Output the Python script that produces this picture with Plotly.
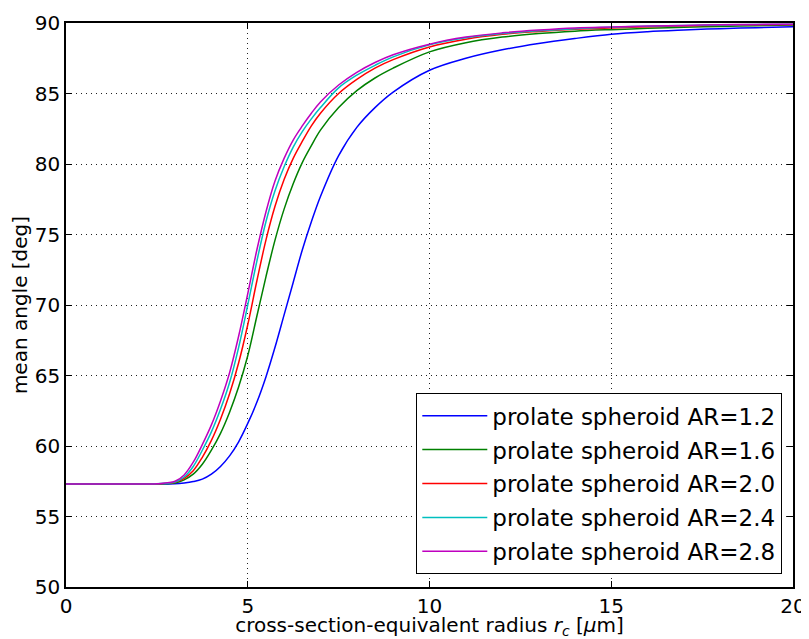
import plotly.graph_objects as go

x_vals = [0, 1, 2, 2.5, 3, 3.25, 3.5, 3.75, 4, 4.25, 4.5, 4.75, 5, 5.25, 5.5, 5.75, 6, 6.25, 6.5, 6.75, 7,
          7.5, 8, 8.5, 9, 10, 11, 12, 13, 14, 15, 16, 17, 18, 19, 20]

ar_labels = ["prolate spheroid AR=1.2", "prolate spheroid AR=1.6", "prolate spheroid AR=2.0",
             "prolate spheroid AR=2.4", "prolate spheroid AR=2.8"]

angle_ar12 = [57.3, 57.3, 57.3, 57.31, 57.32, 57.38, 57.48, 57.65, 58.0, 58.55, 59.3, 60.3, 61.6, 63.1, 64.9, 67.0,
              69.3, 71.6, 73.9, 75.9, 77.7, 80.6, 82.6, 84.0, 85.1,
              86.65, 87.5, 88.1, 88.55, 88.9, 89.2, 89.38, 89.5, 89.6, 89.67, 89.73]
angle_ar16 = [57.3, 57.3, 57.3, 57.31, 57.38, 57.6, 58.0, 58.7, 59.7, 60.9, 62.4, 64.2, 66.4, 69.2, 72.0, 74.6,
              76.8, 78.6, 80.1, 81.3, 82.4, 84.0, 85.2, 86.1, 86.8,
              87.95, 88.6, 89.0, 89.25, 89.42, 89.53, 89.62, 89.7, 89.76, 89.81, 89.85]
angle_ar20 = [57.3, 57.3, 57.3, 57.32, 57.42, 57.7, 58.25, 59.2, 60.4, 61.9, 63.7, 65.9, 68.6, 71.7, 74.6, 77.0,
              78.9, 80.4, 81.6, 82.7, 83.6, 85.0, 86.0, 86.8, 87.4,
              88.3, 88.85, 89.2, 89.4, 89.55, 89.65, 89.73, 89.79, 89.84, 89.87, 89.9]
angle_ar24 = [57.3, 57.3, 57.3, 57.32, 57.45, 57.8, 58.55, 59.7, 61.0, 62.6, 64.5, 67.0, 70.0, 73.1, 75.9, 78.1,
              79.8, 81.2, 82.3, 83.2, 84.0, 85.4, 86.3, 87.0, 87.6,
              88.45, 88.95, 89.25, 89.45, 89.6, 89.7, 89.77, 89.82, 89.86, 89.89, 89.91]
angle_ar28 = [57.3, 57.3, 57.3, 57.33, 57.5, 57.95, 58.85, 60.1, 61.5, 63.2, 65.2, 67.8, 70.8, 73.9, 76.6, 78.8,
              80.4, 81.7, 82.7, 83.6, 84.4, 85.6, 86.5, 87.2, 87.75,
              88.5, 89.0, 89.3, 89.5, 89.65, 89.72, 89.78, 89.83, 89.87, 89.9, 89.92]

series = [angle_ar12, angle_ar16, angle_ar20, angle_ar24, angle_ar28]
colors = ["#0000ff", "#008000", "#ff0000", "#00bfbf", "#bf00bf"]

x_ticks = [0, 5, 10, 15, 20]
y_ticks = [50, 55, 60, 65, 70, 75, 80, 85, 90]

fig = go.Figure()
for i, (name, ys, c) in enumerate(zip(ar_labels, series, colors)):
    fig.add_trace(go.Scatter(x=x_vals, y=ys, mode="lines", name=name, legendgroup=f"g{i}",
                             line=dict(color=c, width=1.5, shape="spline", smoothing=1.0)))

axis_common = dict(showline=True, linecolor="black", linewidth=1.5, mirror="ticks",
                   ticks="inside", ticklen=6, tickwidth=1, tickcolor="black",
                   showgrid=True, gridcolor="#222222", griddash="1px,4px", gridwidth=1,
                   zeroline=False, automargin=False, tickfont=dict(size=20, color="black"))

fig.update_xaxes(range=[0, 20], tickvals=x_ticks, ticktext=[str(t) for t in x_ticks],
                 title=dict(text="cross-section-equivalent radius <i>r</i><sub><i>c</i></sub> [<i>μ</i>m]",
                            font=dict(size=20, color="black"), standoff=4),
                 **axis_common)
fig.update_yaxes(range=[50, 90], tickvals=y_ticks, ticktext=[str(t) for t in y_ticks],
                 title=dict(text="mean angle [deg]", font=dict(size=20, color="black"), standoff=6),
                 **axis_common)

# the page body adds an 8px offset, so the figure is laid out 8px smaller
fig.update_layout(
    width=801, height=631,
    margin=dict(l=58, r=16, t=15, b=52),
    paper_bgcolor="white", plot_bgcolor="white",
    font=dict(family="DejaVu Sans", color="black"),
    showlegend=True,
    legend=dict(x=0.985, y=0.023, xanchor="right", yanchor="bottom",
                bordercolor="black", borderwidth=1.2, bgcolor="white",
                font=dict(size=23, color="black"), itemwidth=65, tracegroupgap=1),
)

fig.write_html("out.html")
